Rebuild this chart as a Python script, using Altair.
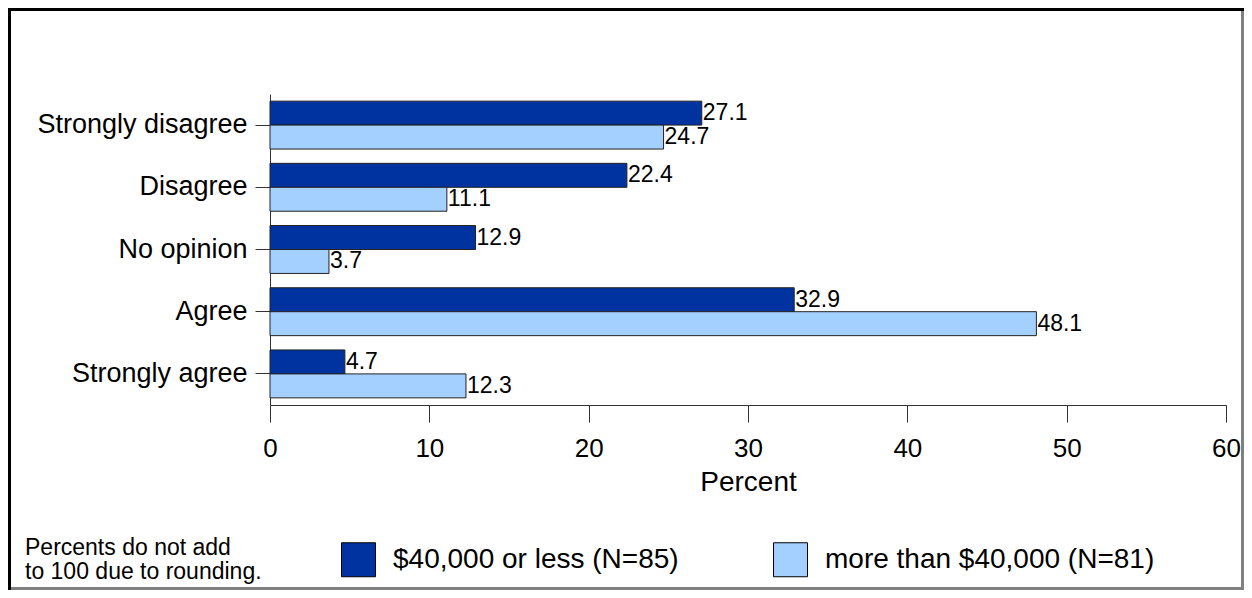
import altair as alt
import pandas as pd

categories = ["Strongly disagree", "Disagree", "No opinion", "Agree", "Strongly agree"]
series = ["$40,000 or less (N=85)", "more than $40,000 (N=81)"]
low_income = [27.1, 22.4, 12.9, 32.9, 4.7]
high_income = [24.7, 11.1, 3.7, 48.1, 12.3]
x_ticks = [0, 10, 20, 30, 40, 50, 60]
colors = ["#0033a0", "#a3d0ff"]
note_lines = ["Percents do not add", "\u00a0to 100 due to rounding."]

rows = []
for cat, a, b in zip(categories, low_income, high_income):
    rows.append({"category": cat, "group": series[0], "value": a})
    rows.append({"category": cat, "group": series[1], "value": b})
df = pd.DataFrame(rows)

FONT = "Liberation Sans"
W, H = 956, 311
PL, PT = 262, 86
TW, TH = 1236, 582

y_enc = alt.Y(
    "category:N", sort=categories,
    scale=alt.Scale(paddingInner=0.23, paddingOuter=0.115),
    axis=alt.Axis(title=None, labelFontSize=27, labelFont=FONT, labelColor="black",
                  tickSize=15, tickColor="#333333", domainColor="#333333",
                  labelPadding=8, labelLimit=400),
)
yoff = alt.YOffset("group:N", sort=series, scale=alt.Scale(paddingInner=0, paddingOuter=0))
x_enc = alt.X(
    "value:Q", scale=alt.Scale(domain=[0, 60], nice=False),
    axis=alt.Axis(values=x_ticks, title="Percent", grid=False, labelFontSize=26, labelFont=FONT,
                  labelColor="black", labelFlush=False, tickSize=17, tickColor="#333333",
                  domainColor="#333333", labelPadding=13, titleFont=FONT, titleFontSize=28,
                  titleFontWeight="normal", titleColor="black", titleY=63, titleBaseline="top"),
)

bars = alt.Chart(df).mark_bar(stroke="#222222", strokeWidth=1).encode(
    x=x_enc, y=y_enc, yOffset=yoff,
    color=alt.Color(
        "group:N", sort=series, scale=alt.Scale(domain=series, range=colors),
        legend=alt.Legend(title=None, orient="none", legendX=71, legendY=448, direction="horizontal",
                          symbolType="square", symbolSize=1156, symbolStrokeColor="black",
                          symbolStrokeWidth=1, symbolOpacity=1, labelFontSize=28, labelFont=FONT,
                          labelColor="black", labelOffset=17, labelLimit=500, columnPadding=92,
                          padding=0),
    ),
)

labels = alt.Chart(df).mark_text(
    align="left", baseline="middle", dx=1, fontSize=23, font=FONT, color="black"
).encode(
    x=alt.X("value:Q"), y=alt.Y("category:N", sort=categories), yOffset=yoff,
    text=alt.Text("value:Q", format=".1f"),
)

one = alt.Data(values=[{"k": 1}])
frame_left = alt.Chart(one).mark_rect(color="black").encode(
    x=alt.value(-PL), x2=alt.value(-PL + 3), y=alt.value(-PT), y2=alt.value(TH - PT))
frame_top = alt.Chart(one).mark_rect(color="black").encode(
    x=alt.value(-PL), x2=alt.value(TW - PL), y=alt.value(-PT), y2=alt.value(-PT + 3))
frame_right = alt.Chart(one).mark_rect(color="#808080").encode(
    x=alt.value(TW - PL - 3), x2=alt.value(TW - PL), y=alt.value(-PT + 3), y2=alt.value(TH - PT))
frame_bottom = alt.Chart(one).mark_rect(color="#808080").encode(
    x=alt.value(-PL + 3), x2=alt.value(TW - PL), y=alt.value(TH - PT - 3), y2=alt.value(TH - PT))

note = alt.Chart(one).mark_text(
    align="left", baseline="top", fontSize=23, font=FONT, color="black",
    lineHeight=24, text=note_lines,
).encode(x=alt.value(-245), y=alt.value(443))

chart = alt.layer(bars, labels, frame_left, frame_top, frame_right, frame_bottom, note).properties(
    width=W, height=H,
    autosize=alt.AutoSizeParams(type="none"),
    padding={"left": PL, "top": PT, "right": TW - PL - W, "bottom": TH - PT - H},
).configure(background="white").configure_view(stroke=None)

chart.save("out.html", embed_options={"renderer": "svg", "actions": False})
